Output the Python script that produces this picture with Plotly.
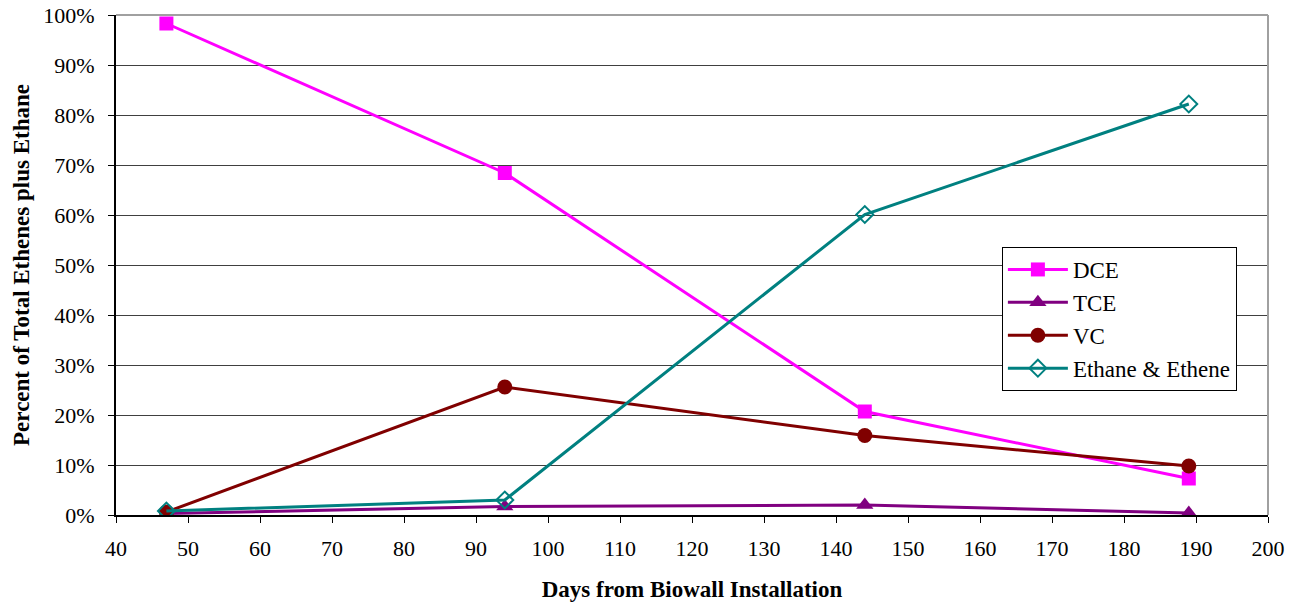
import plotly.graph_objects as go

days = [47, 94, 144, 189]
dce = [98.3, 68.4, 20.7, 7.3]
tce = [0.3, 1.7, 2.0, 0.4]
vc = [0.6, 25.6, 15.9, 9.8]
ethane = [0.8, 3.0, 60.1, 82.2]

x_ticks = list(range(40, 201, 10))
y_ticks = list(range(0, 101, 10))
y_labels = [f"{v}%" for v in y_ticks]

font = "Liberation Serif"

fig = go.Figure()
fig.add_trace(go.Scatter(x=days, y=dce, name="DCE", mode="lines+markers",
                         line=dict(color="#FF00FF", width=3),
                         marker=dict(symbol="square", size=14, color="#FF00FF")))
fig.add_trace(go.Scatter(x=days, y=tce, name="TCE", mode="lines+markers",
                         line=dict(color="#800080", width=3),
                         marker=dict(symbol="triangle-up", size=15, color="#800080")))
fig.add_trace(go.Scatter(x=days, y=vc, name="VC", mode="lines+markers",
                         line=dict(color="#800000", width=3),
                         marker=dict(symbol="circle", size=15, color="#800000")))
fig.add_trace(go.Scatter(x=days, y=ethane, name="Ethane & Ethene", mode="lines+markers",
                         line=dict(color="#008080", width=3),
                         marker=dict(symbol="diamond-open", size=13, color="#008080",
                                     line=dict(width=2))))

fig.update_layout(
    width=1299, height=607,
    margin=dict(l=116, r=31, t=15, b=92),
    paper_bgcolor="white", plot_bgcolor="white",
    font=dict(family=font, size=22, color="black"),
    showlegend=True,
    legend=dict(x=0.769, y=0.536, xanchor="left", yanchor="top",
                bgcolor="white", bordercolor="black", borderwidth=1,
                font=dict(family=font, size=23, color="black"),
                itemwidth=60, tracegroupgap=4),
    xaxis=dict(range=[40, 200], tickvals=x_ticks, ticks="outside", ticklen=6,
               tickcolor="black", showgrid=False, zeroline=False, automargin=False,
               showline=True, linecolor="black", linewidth=2, mirror=False,
               ticklabelstandoff=7,
               tickfont=dict(family=font, size=22),
               title=dict(text="<b>Days from Biowall Installation</b>",
                          font=dict(family=font, size=23), standoff=20)),
    yaxis=dict(range=[0, 100], tickvals=y_ticks, ticktext=y_labels,
               ticks="outside", ticklen=6, tickcolor="black", automargin=False,
               showgrid=True, gridcolor="#404040", gridwidth=1, zeroline=False,
               showline=True, linecolor="black", linewidth=2,
               ticklabelstandoff=9,
               tickfont=dict(family=font, size=22),
               title=dict(text="<b>Percent of Total Ethenes plus Ethane</b>",
                          font=dict(family=font, size=23), standoff=7)),
)

fig.add_shape(type="line", xref="paper", yref="paper", x0=0, x1=1, y0=1, y1=1,
              line=dict(color="#A0A0A0", width=2))
fig.add_shape(type="line", xref="paper", yref="paper", x0=1, x1=1, y0=0, y1=1,
              line=dict(color="#A0A0A0", width=2))

# remove the default 8px page margin so the figure fills the window exactly
fig.write_html("out.html",
               config={"displayModeBar": False},
               post_script="document.body.style.margin='0';document.body.style.overflow='hidden';")
